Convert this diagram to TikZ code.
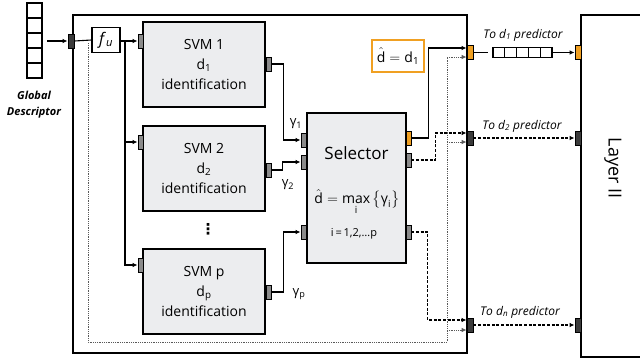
\documentclass[tikz,border=0pt]{standalone}
\usepackage{fontspec}
\usepackage{amsmath}
\setmainfont{Open Sans}
\newfontfamily\djv{DejaVu Sans}
\usetikzlibrary{arrows.meta,calc}
\definecolor{org}{HTML}{F0A022}
\definecolor{boxfill}{HTML}{ECEDEF}
\definecolor{portgray}{HTML}{8A8A8A}
\definecolor{portdark}{HTML}{3A3A3A}
\newcommand{\tsub}[1]{$_{\text{#1}}$}
\begin{document}
\begin{tikzpicture}[x=1pt,y=-1pt,
  svm/.style={draw, line width=1.3pt, fill=boxfill, minimum width=122pt, minimum height=85pt, align=center, font=\fontsize{14}{20}\selectfont, inner sep=0pt},
  port/.style={draw, line width=0.8pt, minimum width=5pt, minimum height=14pt, inner sep=0pt, fill=portgray},
  dport/.style={port, minimum width=6pt, fill=portdark},
  oport/.style={port, minimum width=6pt, fill=org},
  conn/.style={line width=1.1pt},
  arr/.style={conn, -{Latex[length=5pt,width=4.5pt]}},
  dsh/.style={dash pattern=on 3pt off 1.6pt},
  dotline/.style={line width=0.9pt, black!65, dash pattern=on 0.9pt off 0.9pt},
  dotarr/.style={dotline, -{Latex[length=5pt,width=4.5pt]}},
  cell/.style={draw, line width=1.5pt, inner sep=0pt},
  lbl/.style={font=\itshape\fontsize{12}{14}\selectfont},
  glbl/.style={font=\fontsize{13}{14}\selectfont}
]
\useasboundingbox (0,0) rectangle (640,362);

% global descriptor
\foreach \i in {0,...,4} {
  \node[cell, minimum width=15pt, minimum height=15pt] (g\i) at (34.5,10.5+15*\i) {};
}
\node[font=\bfseries\itshape\fontsize{11}{16}\selectfont, align=center] (gdl) at (34,105) {Global\\Descriptor};

% outer box
\draw[line width=1.8pt] (73,15) rectangle (467,353);
% layer II box
\draw[line width=1.8pt] (642,15) -- (581,15) -- (581,357) -- (642,357);
\node[rotate=-90, font=\fontsize{18}{20}\selectfont] (layer) at (613,168) {Layer II};

% input port and f_u
\node[dport] (inp) at (71,41) {};
\coordinate (gdo) at (47,41);
\draw[arr] (gdo) -- (inp.west);
\node[draw, line width=1.3pt, fill=white, minimum width=28pt, minimum height=25pt, inner sep=0pt, font=\fontsize{16}{16}\selectfont] (fu) at (106,40) {\textit{f}$_{\textit{u}}$};

% SVM boxes
\node[svm] (s1) at (204,64.5) {SVM 1\\d\tsub{1}\\identification};
\node[svm] (s2) at (204,168.5) {SVM 2\\d\tsub{2}\\identification};
\node[svm] (sp) at (204,291.5) {SVM p\\d\tsub{p}\\identification};
\node[font=\djv\bfseries\fontsize{15}{15}\selectfont, inner sep=0pt] (vd) at (208,229) {⋮};

\node[port] (s1in) at (140.5,41) {};
\node[port] (s2in) at (140.5,142) {};
\node[port] (spin) at (140.5,265) {};
\node[port] (s1out) at (268.5,64) {};
\node[port] (s2out) at (268.5,170) {};
\node[port] (spout) at (268.5,292) {};

% Selector
\node[draw, line width=1.3pt, fill=boxfill, minimum width=99pt, minimum height=150pt, inner sep=0pt] (sel) at (356.5,188) {};
\node[font=\fontsize{17}{20}\selectfont] (selt) at (356.5,153) {Selector};
\node[font=\fontsize{14}{16}\selectfont] (self) at (357,202) {$\hat{\text{d}} = \max\limits_{\text{i}}\big\{\text{γ}_{\text{i}}\big\}$};
\node[font=\fontsize{11}{13}\selectfont] (seli) at (354,234) {i\,=\,1,2,…p};

\node[port] (sl1) at (303.5,140) {};
\node[port] (sl2) at (303.5,162) {};
\node[port] (slp) at (303.5,232) {};
\node[oport, minimum width=5pt] (sr1) at (408.5,138) {};
\node[port] (sr2) at (408.5,160) {};
\node[port] (srp) at (408.5,232) {};

% d-hat box
\node[draw=org, line width=1.8pt, minimum width=52pt, minimum height=32pt, inner sep=0pt, font=\fontsize{14}{16}\selectfont] (dh) at (398,56) {$\hat{\text{d}} = \text{d}_{\text{1}}$};

% output ports of outer box
\node[oport] (d1p) at (470,52.5) {};
\node[dport] (d2p) at (470,138) {};
\node[dport] (dnp) at (470,325) {};
% layer II ports
\node[oport] (L1p) at (578,52.5) {};
\node[dport] (L2p) at (578,138) {};
\node[dport] (Lnp) at (578,325) {};

% wiring fu -> SVMs
\draw[conn] (inp.east) -- (fu.west);
\coordinate (br) at (125,41);
\draw[conn] (fu.east |- br) -- (br);
\draw[arr] (br) -- (s1in.west);
\draw[arr] (br) |- (spin.west);
\draw[arr] (br |- s2in) -- (s2in.west);

% dotted bypass
\coordinate (dt0) at (88,43);
\coordinate (dtc) at (447,342);
\draw[dotline] (dt0) -- (dt0 |- dtc) -- (dtc) -- (447,57);
\draw[dotarr] (447,57) -- ([yshift=-4.5pt]d1p.west);
\draw[dotarr] (447,142) -- ([yshift=-4pt]d2p.west);
\draw[dotarr] (447,330) -- ([yshift=-5pt]dnp.west);

% SVM -> selector
\draw[arr] (s1out.east) -| ([xshift=-17pt]sl1.west) -- (sl1.west);
\draw[arr] (s2out.east) -| ([xshift=-18pt]sl2.west) -- (sl2.west);
\draw[arr] (spout.east) -| ([xshift=-17pt]slp.west) -- (slp.west);
\node[glbl] (g1) at (296,124) {γ\tsub{1}};
\node[glbl] (g2) at (288,185) {γ\tsub{2}};
\node[glbl] (gp) at (299,294) {γ\tsub{p}};

% selector -> outputs
\draw[arr] (sr1.east) -| ([xshift=-38pt,yshift=4.5pt]d1p.west) -- ([yshift=4.5pt]d1p.west);
\draw[arr, dsh] (sr2.east) -| ([xshift=-31pt,yshift=5pt]d2p.west) -- ([yshift=5pt]d2p.west);
\draw[arr, dsh] (srp.east) -| ([xshift=-39pt,yshift=5pt]dnp.west) -- ([yshift=5pt]dnp.west);

% to predictors
\foreach \i in {0,...,4} {
  \node[cell, line width=1.3pt, minimum width=11.8pt, minimum height=10pt] (v\i) at (498.9+11.8*\i,52.5) {};
}
\draw[conn] (d1p.east) -- ([xshift=-4pt]v0.west);
\draw[arr] (v4.east) -- (L1p.west);
\draw[arr, dsh] (d2p.east) -- (L2p.west);
\draw[arr, dsh] (dnp.east) -- (Lnp.west);
\node[lbl] (t1) at (523,35) {To d\tsub{1} predictor};
\node[lbl] (t2) at (522,126) {To d\tsub{2} predictor};
\node[lbl] (tn) at (520,312) {To d\tsub{n} predictor};
\end{tikzpicture}
\end{document}
